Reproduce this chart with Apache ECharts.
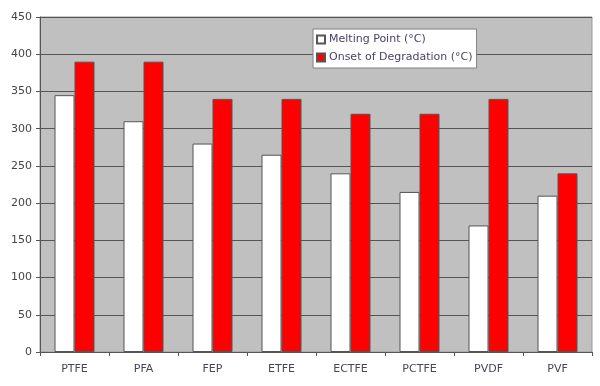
<!DOCTYPE html>
<html><head><meta charset="utf-8">
<script src="https://cdn.jsdelivr.net/npm/echarts@6/dist/echarts.min.js"></script>
<style>html,body{margin:0;padding:0;background:#fff}#c{width:600px;height:386px}</style>
</head><body><div id="c"></div>
<script>
var categories = ['PTFE','PFA','FEP','ETFE','ECTFE','PCTFE','PVDF','PVF'];
var meltingPoint = [345,310,280,265,240,215,170,210];
var onsetDegradation = [390,390,340,340,320,320,340,240];
var seriesNames = ['Melting Point (°C)','Onset of Degradation (°C)'];

var chart = echarts.init(document.getElementById('c'));
chart.setOption({
  backgroundColor:'#fff',
  animation:false,
  grid:{left:40,right:8,top:17,bottom:34,show:true,backgroundColor:'#c0c0c0',borderColor:'#999',borderWidth:1},
  legend:{
    orient:'vertical',left:313,top:29,
    icon:'rect',
    itemWidth:8,itemHeight:8,itemGap:7,
    padding:[5,4,5,3],
    backgroundColor:'#fff',borderColor:'#808080',borderWidth:1,
    textStyle:{fontFamily:'DejaVu Sans',fontSize:11,color:'#4a3f66',padding:[0,0,0,-1]},
    data:seriesNames
  },
  xAxis:{
    type:'category',data:categories,
    axisLine:{lineStyle:{color:'#555',width:1}},
    axisTick:{show:true,length:4,lineStyle:{color:'#555'}},
    axisLabel:{fontFamily:'DejaVu Sans',fontSize:11,color:'#4a4458',margin:12}
  },
  yAxis:{
    type:'value',min:0,max:450,interval:50,
    axisLine:{show:true,lineStyle:{color:'#555'}},
    axisTick:{show:true,length:4,lineStyle:{color:'#555'}},
    axisLabel:{fontFamily:'DejaVu Sans',fontSize:11,color:'#444',margin:8},
    splitLine:{lineStyle:{color:'#555',width:1}}
  },
  series:[
    {name:seriesNames[0],type:'bar',data:meltingPoint,barWidth:20,barGap:'0%',
     itemStyle:{color:'#fff',borderColor:'#555',borderWidth:1}},
    {name:seriesNames[1],type:'bar',data:onsetDegradation,barWidth:20,
     itemStyle:{color:'#ff0000',borderColor:'#555',borderWidth:1}}
  ]
});
</script></body></html>
